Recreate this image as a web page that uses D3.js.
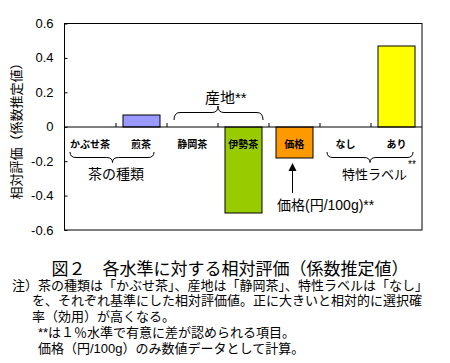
<!DOCTYPE html>
<html>
<head>
<meta charset="utf-8">
<script src="https://cdn.jsdelivr.net/npm/d3@7"></script>
<style>
  body { margin: 0; background: #fff; }
  text { font-family: "Liberation Sans", "Noto Sans CJK JP", sans-serif; fill: #000; }
</style>
</head>
<body>
<div id="vis"></div>
<script>
// Relative evaluation (coefficient estimates) per level

/* *************************** Data ***************************** */
var categories = ['かぶせ茶', '煎茶', '静岡茶', '伊勢茶', '価格', 'なし', 'あり'];
var values = [0, 0.07, 0, -0.5, -0.18, 0, 0.47];
var barColors = ['#ffffff', '#9999ff', '#ffffff', '#99cc00', '#ff9900', '#ffffff', '#ffff00'];
var yTicks = [0.6, 0.4, 0.2, 0, -0.2, -0.4, -0.6];
var yTickLabels = ['0.6', '0.4', '0.2', '0', '-0.2', '-0.4', '-0.6'];

var title = '図２　各水準に対する相対評価（係数推定値）';
var notes = [
    '注）茶の種類は「かぶせ茶」、産地は「静岡茶」、特性ラベルは「なし」',
    'を、それぞれ基準にした相対評価値。正に大きいと相対的に選択確',
    '率（効用）が高くなる。',
    '**は１％水準で有意に差が認められる項目。',
    '価格（円/100g）のみ数値データとして計算。'
];
var noteX = [12, 32, 32, 38, 38];

/* *************************** Settings ***************************** */
var width = 450;
var height = 363;
var margin = { left: 64.5, top: 23.5, right: 28, bottom: 133 };
var drawWidth = width - margin.left - margin.right;
var drawHeight = height - margin.top - margin.bottom;

var svg = d3.select('#vis')
    .append('svg')
    .attr('width', width)
    .attr('height', height);

var g = svg.append('g')
    .attr('transform', 'translate(' + margin.left + ',' + margin.top + ')');

var xScale = d3.scaleBand()
    .domain(categories)
    .range([0, drawWidth])
    .paddingInner(0.27)
    .paddingOuter(0.135);

var bandStep = drawWidth / categories.length;

var yScale = d3.scaleLinear()
    .domain([-0.6, 0.6])
    .range([drawHeight, 0]);

/* *************************** Bars ***************************** */
g.selectAll('rect.bar')
    .data(categories)
    .enter().append('rect')
    .attr('class', 'bar')
    .filter(function(d, i) { return values[i] !== 0; })
    .attr('x', function(d) { return Math.round(xScale(d)) + 0.5; })
    .attr('width', Math.round(xScale.bandwidth()))
    .attr('y', function(d) {
        var v = values[categories.indexOf(d)];
        return Math.round(yScale(Math.max(v, 0))) + 0.5;
    })
    .attr('height', function(d) {
        var v = values[categories.indexOf(d)];
        return Math.round(Math.abs(yScale(v) - yScale(0)));
    })
    .attr('fill', function(d) { return barColors[categories.indexOf(d)]; })
    .attr('stroke', '#000')
    .attr('stroke-width', 1);

/* *************************** Axes ***************************** */
// plot frame
g.append('rect')
    .attr('x', 0).attr('y', 0)
    .attr('width', drawWidth).attr('height', drawHeight)
    .attr('fill', 'none').attr('stroke', '#000').attr('stroke-width', 1);

// y axis ticks inside the frame
var yAxis = d3.axisRight(yScale)
    .tickValues(yTicks)
    .tickSize(3)
    .tickFormat('');
g.append('g').call(yAxis).call(function(s) { s.select('.domain').remove(); });

g.selectAll('text.ylab')
    .data(yTicks)
    .enter().append('text')
    .attr('class', 'ylab')
    .attr('x', -11)
    .attr('y', function(d) { return yScale(d) + 4.5; })
    .attr('text-anchor', 'end')
    .style('font-size', '13px')
    .text(function(d, i) { return yTickLabels[i]; });

// zero line with ticks between categories
var zeroY = Math.round(yScale(0)) + 0.5;
g.append('line')
    .attr('x1', 0).attr('x2', drawWidth)
    .attr('y1', zeroY).attr('y2', zeroY)
    .attr('stroke', '#000');
g.selectAll('line.xtick')
    .data(d3.range(1, categories.length))
    .enter().append('line')
    .attr('class', 'xtick')
    .attr('x1', function(i) { return Math.round(i * bandStep) + 0.5; })
    .attr('x2', function(i) { return Math.round(i * bandStep) + 0.5; })
    .attr('y1', zeroY).attr('y2', zeroY - 4)
    .attr('stroke', '#000');

// category labels under the zero line
g.selectAll('text.cat')
    .data(categories)
    .enter().append('text')
    .attr('class', 'cat')
    .attr('x', function(d) { return xScale(d) + xScale.bandwidth() / 2; })
    .attr('y', yScale(0) + 21)
    .attr('text-anchor', 'middle')
    .style('font-size', '10px')
    .style('font-weight', 'bold')
    .text(function(d) { return d; });

// y axis title
svg.append('text')
    .attr('transform', 'translate(21,128) rotate(-90)')
    .attr('text-anchor', 'middle')
    .style('font-size', '13px')
    .text('相対評価（係数推定値）');

/* *************************** Annotations ***************************** */
// curly brace from x1 to x2, ends at yEnd, flat at yFlat, tip at yTip
var brace = function(x1, x2, xm, yEnd, yFlat, yTip) {
    var r = 6;
    return 'M' + x1 + ',' + yEnd +
        ' Q' + x1 + ',' + yFlat + ' ' + (x1 + r) + ',' + yFlat +
        ' L' + (xm - r) + ',' + yFlat +
        ' Q' + xm + ',' + yFlat + ' ' + xm + ',' + yTip +
        ' Q' + xm + ',' + yFlat + ' ' + (xm + r) + ',' + yFlat +
        ' L' + (x2 - r) + ',' + yFlat +
        ' Q' + x2 + ',' + yFlat + ' ' + x2 + ',' + yEnd;
};

var braces = [
    [70, 154, 112.5, 152, 157.5, 162.5],
    [174, 263, 218, 120, 112.5, 106],
    [327, 413, 370, 152, 157.5, 162.5]
];
svg.selectAll('path.brace')
    .data(braces)
    .enter().append('path')
    .attr('class', 'brace')
    .attr('d', function(b) { return brace.apply(null, b); })
    .attr('fill', 'none')
    .attr('stroke', '#000')
    .attr('stroke-width', 1);

svg.append('text').attr('x', 88).attr('y', 178.5)
    .style('font-size', '14px').text('茶の種類');
svg.append('text').attr('x', 205).attr('y', 102.5)
    .style('font-size', '15px').text('産地**');
svg.append('text').attr('x', 342).attr('y', 178.5)
    .style('font-size', '13px').text('特性ラベル');
svg.append('text').attr('x', 408).attr('y', 168)
    .style('font-size', '10px').text('**');

// price arrow
svg.append('line')
    .attr('x1', 292.5).attr('x2', 292.5)
    .attr('y1', 170).attr('y2', 193)
    .attr('stroke', '#000');
svg.append('path')
    .attr('d', 'M292.5,163 L288.5,171 L296.5,171 Z')
    .attr('fill', '#000');
svg.append('text').attr('x', 277).attr('y', 210)
    .style('font-size', '14px').text('価格(円/100g)**');

/* *************************** Caption ***************************** */
svg.append('text')
    .attr('x', 230).attr('y', 275)
    .attr('text-anchor', 'middle')
    .style('font-size', '17px')
    .text(title);

svg.selectAll('text.note')
    .data(notes)
    .enter().append('text')
    .attr('class', 'note')
    .attr('x', function(d, i) { return noteX[i]; })
    .attr('y', function(d, i) { return 289.5 + i * 15.8; })
    .style('font-size', '13px')
    .text(function(d) { return d; });
</script>
</body>
</html>
